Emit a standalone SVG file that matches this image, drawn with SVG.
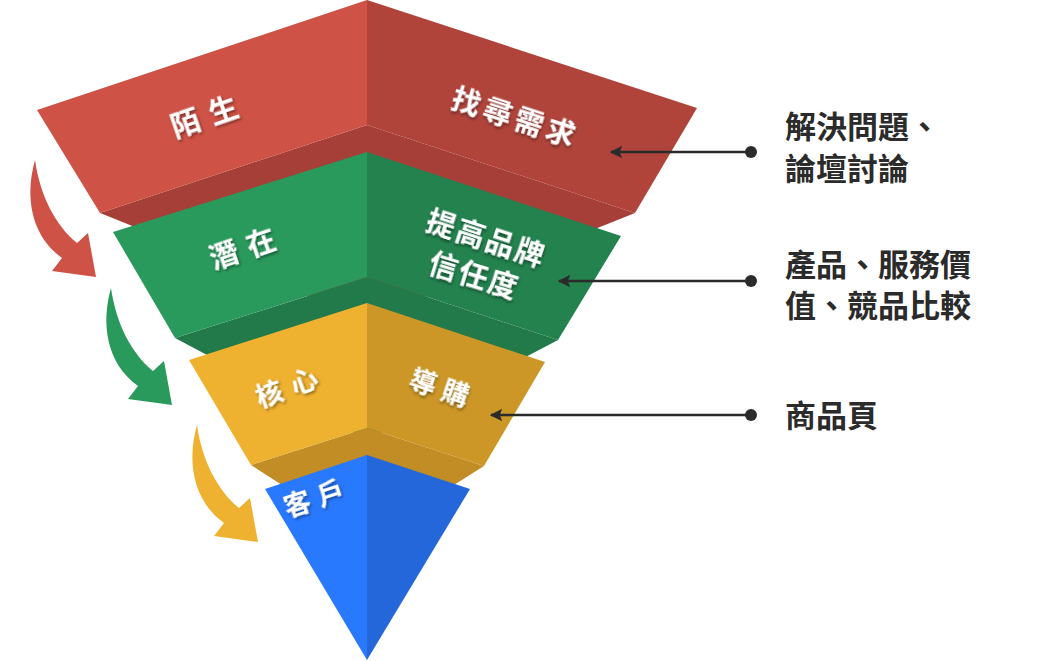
<svg xmlns="http://www.w3.org/2000/svg" width="1040" height="661" viewBox="0 0 1040 661">
<defs>
<style>
.lbl{font-family:"Noto Sans CJK TC","Noto Sans CJK SC",sans-serif;font-weight:700;font-size:29px;fill:#fff;text-anchor:middle;filter:url(#sh)}
.sm{font-size:27px}
.note{font-family:"Noto Sans CJK TC","Noto Sans CJK SC",sans-serif;font-weight:700;font-size:31px;fill:#2b2b2b}
.conn{stroke:#2b2b2b;stroke-width:2.5;fill:none;marker-end:url(#ah)}
.dot{fill:#2b2b2b}
</style>
<filter id="sh" x="-20%" y="-30%" width="140%" height="170%">
<feDropShadow dx="1" dy="2" stdDeviation="1.5" flood-color="#000" flood-opacity="0.45"/>
</filter>
<marker id="ah" viewBox="0 0 10 10" refX="9" refY="5" markerWidth="5" markerHeight="5" orient="auto">
<path d="M0,0 L10,5 L0,10 L2,5 Z" fill="#2b2b2b"/>
</marker>
<path id="crv" d="M35,160 C25,195 30,235 62,258 L52,271 L96,277 L88,233 L77,243 C55,225 40,195 35,160 Z"/>
</defs>

<g id="flow-arrows">
<use href="#crv" fill="#CF5246"/>
<use href="#crv" fill="#2A9A5C" transform="translate(76,128)"/>
<use href="#crv" fill="#EFB130" transform="translate(162,265)"/>
</g>

<g id="layer-stranger">
<polygon points="100,213 367,125 635,213 367,320" fill="#A53F37"/>
<polygon points="367,0 37,110 100,213 367,125" fill="#CF5246"/>
<polygon points="367,0 697,108 635,213 367,125" fill="#B0443B"/>
<text class="lbl" transform="translate(208,127) rotate(-19)">陌<tspan dx="11">生</tspan></text>
<text class="lbl" transform="translate(512,128) rotate(18)" letter-spacing="4">找尋需求</text>
</g>

<g id="layer-potential">
<polygon points="175,338 367,277 558,340 367,440" fill="#227A4A"/>
<polygon points="367,152 113,232 175,338 367,277" fill="#2A9A5C"/>
<polygon points="367,152 621,236 558,340 367,277" fill="#23824E"/>
<text class="lbl" transform="translate(246,259) rotate(-19)">潛<tspan dx="10">在</tspan></text>
<text class="lbl" transform="translate(483,249) rotate(18)" letter-spacing="2">提高品牌</text>
<text class="lbl" transform="translate(471,286) rotate(17)" letter-spacing="2">信任度</text>
</g>

<g id="layer-core">
<polygon points="251,465 367,428 484,466 367,540" fill="#C28D25"/>
<polygon points="367,303 189,360 251,465 367,428" fill="#EFB130"/>
<polygon points="367,303 545,362 484,466 367,428" fill="#CC9727"/>
<text class="lbl sm" transform="translate(290,397) rotate(-20)">核<tspan dx="10">心</tspan></text>
<text class="lbl sm" transform="translate(436,397) rotate(19)">導<tspan dx="7">購</tspan></text>
</g>

<g id="layer-customer">
<polygon points="367,455 265,489 367,660" fill="#2979FF"/>
<polygon points="367,455 470,489 367,660" fill="#2467DB"/>
<text class="lbl sm" transform="translate(317,508) rotate(-18)">客<tspan dx="8">戶</tspan></text>
</g>

<g id="connectors">
<line class="conn" x1="751" y1="152" x2="611" y2="152"/>
<line class="conn" x1="751" y1="281" x2="559" y2="281"/>
<line class="conn" x1="751" y1="415" x2="491" y2="415"/>
<circle class="dot" cx="751" cy="152" r="6"/>
<circle class="dot" cx="751" cy="281" r="6"/>
<circle class="dot" cx="751" cy="415" r="6"/>
</g>

<g id="notes">
<text class="note" x="785" y="138">解決問題、</text>
<text class="note" x="785" y="180">論壇討論</text>
<text class="note" x="785" y="276">產品、服務價</text>
<text class="note" x="785" y="317">值、競品比較</text>
<text class="note" x="785" y="427">商品頁</text>
</g>
</svg>
